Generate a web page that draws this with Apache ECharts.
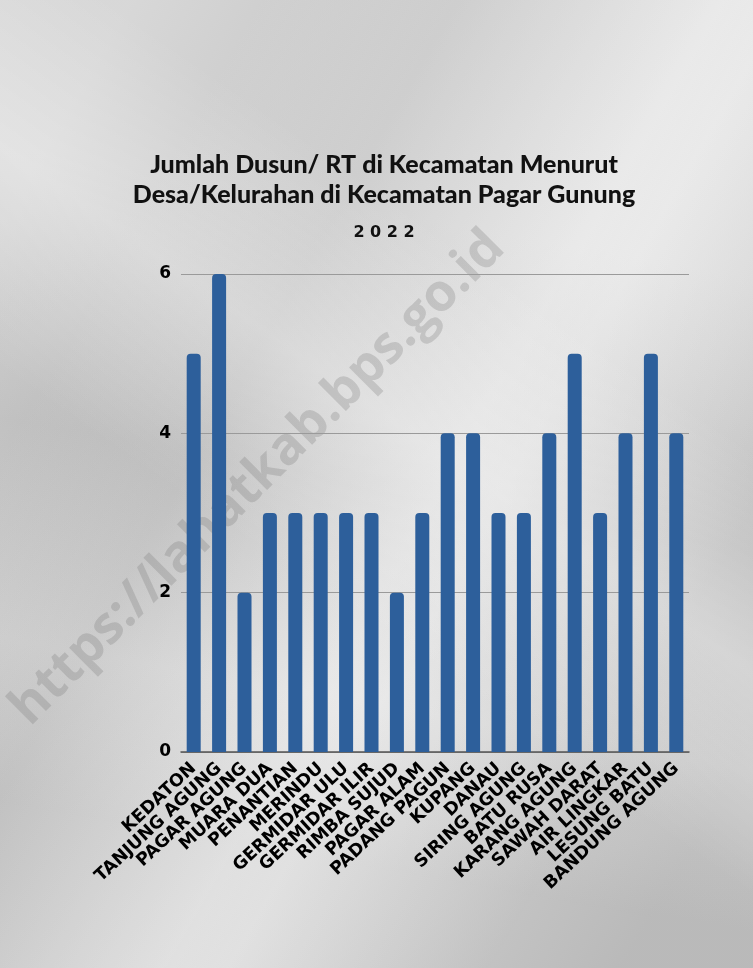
<!DOCTYPE html>
<html>
<head>
<meta charset="utf-8">
<script src="https://cdn.jsdelivr.net/npm/echarts@6/dist/echarts.min.js"></script>
<style>
html, body { margin: 0; padding: 0; }
body {
  width: 753px; height: 968px; overflow: hidden;
  background:
    linear-gradient(35deg, rgba(255,255,255,0) 40%, rgba(255,255,255,0.3) 55%, rgba(255,255,255,0) 70%),
    linear-gradient(-60deg, rgba(0,0,0,0.05) 20%, rgba(255,255,255,0.22) 45%, rgba(0,0,0,0.06) 80%),
    linear-gradient(120deg, rgba(255,255,255,0.2) 10%, rgba(0,0,0,0.06) 35%, rgba(255,255,255,0.3) 60%, rgba(0,0,0,0.05) 90%),
    linear-gradient(10deg, rgba(0,0,0,0.04) 15%, rgba(255,255,255,0.15) 30%, rgba(0,0,0,0.05) 50%, rgba(255,255,255,0.2) 75%),
    #d6d6d6;
}
#chart { width: 753px; height: 968px; }
</style>
</head>
<body>
<div id="chart"></div>
<script>
// data
var desa = ['KEDATON', 'TANJUNG AGUNG', 'PAGAR AGUNG', 'MUARA DUA', 'PENANTIAN', 'MERINDU',
  'GERMIDAR ULU', 'GERMIDAR ILIR', 'RIMBA SUJUD', 'PAGAR ALAM', 'PADANG PAGUN', 'KUPANG',
  'DANAU', 'SIRING AGUNG', 'BATU RUSA', 'KARANG AGUNG', 'SAWAH DARAT', 'AIR LINGKAR',
  'LESUNG BATU', 'BANDUNG AGUNG'];
var jumlahDusun = [5, 6, 2, 3, 3, 3, 3, 3, 2, 3, 4, 4, 3, 3, 4, 5, 3, 4, 5, 4];
var yTicks = [0, 2, 4, 6];

var chart = echarts.init(document.getElementById('chart'));

chart.setOption({
  backgroundColor: 'transparent',
  animation: false,
  title: {
    text: 'Jumlah Dusun/ RT di Kecamatan Menurut\nDesa/Kelurahan di Kecamatan Pagar Gunung',
    subtext: '2 0 2 2',
    left: 379,
    top: 145,
    textAlign: 'center',
    itemGap: 15,
    textStyle: {
      fontFamily: 'Lato',
      fontWeight: 900,
      fontSize: 25,
      lineHeight: 30,
      color: '#111'
    },
    subtextStyle: {
      fontFamily: 'DejaVu Sans',
      fontWeight: 'bold',
      fontSize: 16,
      color: '#111'
    }
  },
  graphic: [{
    type: 'text',
    x: 258,
    y: 478,
    rotation: Math.PI / 4,
    silent: true,
    z: 0,
    style: {
      text: 'https://lahatkab.bps.go.id',
      fontFamily: 'Open Sans',
      fontWeight: 'bold',
      fontSize: 52,
      fill: 'rgba(110,110,110,0.25)',
      align: 'center',
      verticalAlign: 'middle'
    }
  }],
  grid: {
    left: 181,
    width: 508,
    top: 274,
    height: 478
  },
  xAxis: {
    type: 'category',
    data: desa,
    axisLine: { lineStyle: { color: '#555', width: 1.5 } },
    axisTick: { show: false },
    axisLabel: {
      rotate: 43,
      interval: 0,
      margin: 14,
      fontFamily: 'DejaVu Sans',
      fontWeight: 'bold',
      fontSize: 17.5,
      color: '#000'
    }
  },
  yAxis: {
    type: 'value',
    min: yTicks[0],
    max: yTicks[yTicks.length - 1],
    interval: 2,
    axisLine: { show: false },
    axisTick: { show: false },
    splitLine: { lineStyle: { color: '#9a9a9a', width: 1 } },
    axisLabel: {
      margin: 10,
      fontFamily: 'DejaVu Sans',
      fontWeight: 'bold',
      fontSize: 17,
      color: '#000'
    }
  },
  series: [{
    type: 'bar',
    data: jumlahDusun,
    barWidth: 14,
    itemStyle: { color: '#2d5f9b', borderRadius: [4, 4, 0, 0] }
  }]
});
</script>
</body>
</html>
